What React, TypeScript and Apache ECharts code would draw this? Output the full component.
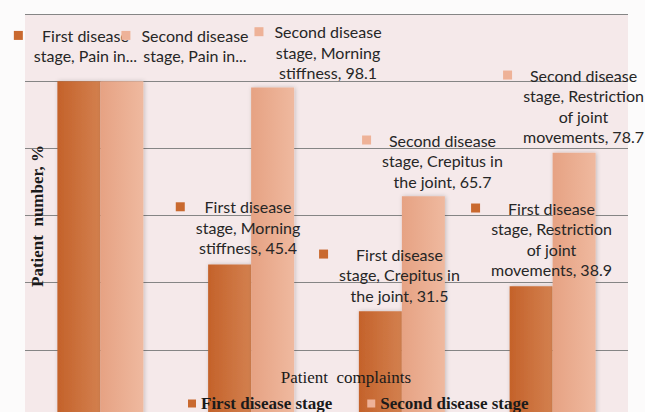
import React, { useEffect, useRef } from "react";
import * as echarts from "echarts";

// ---- data ----
const categories = [
  "Pain in the joints",
  "Morning stiffness",
  "Crepitus in the joint",
  "Restriction of joint movements",
];
const seriesNames = ["First disease stage", "Second disease stage"];
const firstStage = [100, 45.4, 31.5, 38.9];
const secondStage = [100, 98.1, 65.7, 78.7];
// how each category appears inside the data labels (Excel truncated the first one)
const labelCategoryText = ["Pain in...", "Morning stiffness", "Crepitus in the joint", "Restriction of joint movements"];
const labelShowsValue = [false, true, true, true];
const yTicks = { min: 0, max: 120, interval: 20 };
const xTitle = "Patient  complaints";
const yTitle = "Patient  number, %";

// ---- styling / layout ----
const DARK = "#c9692f";
const LIGHT = "#eeb298";
const LABEL_FONT = "Lato";
// label offsets relative to the bar top centre [dx, dy]
const firstOffsets = [
  [6.6, -56],
  [18.4, -68],
  [19.1, -67.4],
  [20.4, -88.6],
];
const secondOffsets = [
  [73.1, -56],
  [55.4, -66.1],
  [19.1, -66.6],
  [9.4, -87.9],
];

function wrapWords(text: string, maxChars: number): string[] {
  const words = text.split(" ");
  const lines: string[] = [];
  let cur = "";
  for (const w of words) {
    const cand = cur ? cur + " " + w : w;
    if (cand.length > maxChars && cur) {
      lines.push(cur);
      cur = w;
    } else {
      cur = cand;
    }
  }
  if (cur) lines.push(cur);
  return lines;
}

function labelText(seriesIdx: number, catIdx: number, value: number): string {
  let s = `${seriesNames[seriesIdx]}, ${labelCategoryText[catIdx]}`;
  if (labelShowsValue[catIdx]) s += `, ${value}`;
  const lines = wrapWords(s, 18);
  const marker = seriesIdx === 0 ? "m1" : "m2";
  return lines
    .map((ln, i) => (i === 0 ? `{${marker}|}{g|}{t|${ln}}{r|}` : `{s|}{t|${ln}}{r|}`))
    .join("\n");
}

const richStyles = {
  m1: { width: 9, height: 9, backgroundColor: DARK, align: "left" },
  m2: { width: 9, height: 9, backgroundColor: LIGHT, align: "left" },
  g: { width: 11, align: "left" },
  s: { width: 20, align: "left" },
  r: { width: 20, align: "right" },
  t: { align: "center", fontFamily: LABEL_FONT, fontSize: 16, color: "#262626", lineHeight: 20.5 },
};

function buildData(values: number[], seriesIdx: number, offsets: number[][]) {
  return values.map((v, i) => ({
    value: v,
    label: {
      show: true,
      position: "top",
      distance: 0,
      align: "center",
      verticalAlign: "top",
      offset: offsets[i],
      lineHeight: 20.5,
      formatter: () => labelText(seriesIdx, i, v),
      rich: richStyles,
    },
  }));
}

export default function App() {
  const ref = useRef<HTMLDivElement>(null);
  useEffect(() => {
    if (!ref.current) return;
    const chart = echarts.init(ref.current, null, { renderer: "svg" });
    const gradDark = new echarts.graphic.LinearGradient(0, 0, 1, 0, [
      { offset: 0, color: "#c4622a" },
      { offset: 1, color: "#d3804f" },
    ]);
    const gradLight = new echarts.graphic.LinearGradient(0, 0, 1, 0, [
      { offset: 0, color: "#e6a283" },
      { offset: 1, color: "#efb99f" },
    ]);
    chart.setOption({
      animation: false,
      backgroundColor: "#fcfbfb",
      grid: {
        left: 25,
        right: 17,
        top: 14,
        bottom: -5,
        show: true,
        backgroundColor: "#f5e9ea",
        borderWidth: 0,
        outerBoundsMode: "none",
      },
      legend: {
        left: 183,
        top: 390,
        icon: "rect",
        itemWidth: 8,
        itemHeight: 8,
        itemGap: 35,
        textStyle: {
          fontFamily: "Liberation Serif",
          fontWeight: "bold",
          fontSize: 17,
          color: "#1a1a1a",
        },
        data: [
          { name: seriesNames[0], itemStyle: { color: DARK } },
          { name: seriesNames[1], itemStyle: { color: LIGHT } },
        ],
      },
      xAxis: {
        type: "category",
        data: categories,
        axisLine: { show: false },
        axisTick: { show: false },
        axisLabel: { show: false },
      },
      yAxis: {
        type: "value",
        min: yTicks.min,
        max: yTicks.max,
        interval: yTicks.interval,
        axisLine: { show: false },
        axisTick: { show: false },
        axisLabel: { show: false },
        splitLine: { lineStyle: { color: "#858585", width: 1 } },
      },
      series: [
        {
          name: seriesNames[0],
          type: "bar",
          barWidth: 43,
          barGap: "0%",
          itemStyle: {
            color: gradDark,
            shadowBlur: 4,
            shadowColor: "rgba(0,0,0,0.2)",
            shadowOffsetX: 1,
          },
          data: buildData(firstStage, 0, firstOffsets),
        },
        {
          name: seriesNames[1],
          type: "bar",
          barWidth: 43,
          barGap: "0%",
          itemStyle: {
            color: gradLight,
            shadowBlur: 4,
            shadowColor: "rgba(0,0,0,0.2)",
            shadowOffsetX: 1,
          },
          data: buildData(secondStage, 1, secondOffsets),
        },
      ],
      graphic: [
        {
          type: "text",
          x: 346,
          y: 377,
          z: 100,
          style: {
            text: xTitle,
            fontFamily: "Liberation Serif",
            fontSize: 17,
            fill: "#1a1a1a",
            textAlign: "center",
            textVerticalAlign: "middle",
          },
        },
        {
          type: "text",
          x: 37,
          y: 216,
          rotation: Math.PI / 2,
          z: 100,
          style: {
            text: yTitle,
            fontFamily: "Liberation Serif",
            fontWeight: "bold",
            fontSize: 17,
            fill: "#1a1a1a",
            textAlign: "center",
            textVerticalAlign: "middle",
          },
        },
      ],
    });
    return () => chart.dispose();
  }, []);
  return (
    <div
      ref={ref}
      style={{ position: "fixed", left: 0, top: 0, width: 645, height: 412 }}
    />
  );
}
